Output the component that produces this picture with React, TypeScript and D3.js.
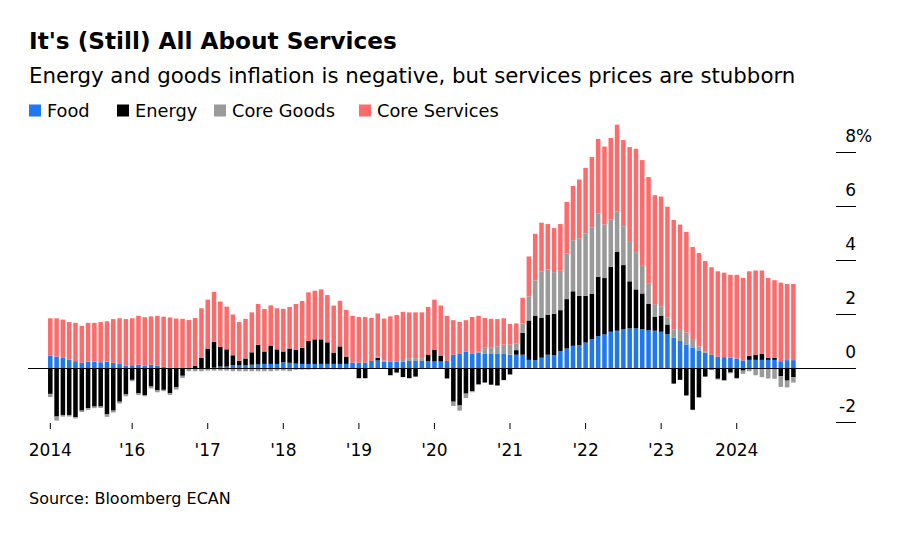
import React from "react";
import * as d3 from "d3";

// Monthly contributions to US CPI (pp), Dec 2014 - Oct 2024
const firstMonth = new Date(2014, 11, 1);

const food = [
  0.47, 0.44, 0.41, 0.32, 0.27, 0.21, 0.25, 0.25, 0.23, 0.26, 0.21, 0.19, 0.1, 0.12, 0.14, 0.1, 0.14, 0.11, 0.06, 0.04,
  0.02, 0.01, 0.01, 0.01, 0.02, 0.02, 0.03, 0.07, 0.07, 0.12, 0.12, 0.12, 0.14, 0.15, 0.17, 0.17, 0.17, 0.23, 0.21, 0.18,
  0.17, 0.17, 0.17, 0.17, 0.17, 0.17, 0.17, 0.17, 0.22, 0.22, 0.22, 0.28, 0.3, 0.26, 0.26, 0.26, 0.26, 0.28, 0.28, 0.28,
  0.27, 0.26, 0.26, 0.28, 0.51, 0.56, 0.63, 0.56, 0.59, 0.56, 0.56, 0.54, 0.56, 0.51, 0.51, 0.51, 0.32, 0.31, 0.4, 0.51,
  0.49, 0.65, 0.74, 0.84, 0.86, 0.96, 1.09, 1.2, 1.26, 1.36, 1.4, 1.46, 1.49, 1.49, 1.46, 1.41, 1.4, 1.36, 1.27, 1.14,
  1.02, 0.89, 0.78, 0.67, 0.59, 0.51, 0.44, 0.42, 0.41, 0.37, 0.3, 0.32, 0.32, 0.32, 0.32, 0.32, 0.27, 0.31, 0.31,
];

const energy = [
  -0.94, -1.78, -1.72, -1.72, -1.8, -1.56, -1.47, -1.41, -1.41, -1.7, -1.56, -1.23, -0.96, -0.42, -0.91, -0.98, -0.67, -0.81, -0.79, -0.91,
  -0.7, -0.27, 0, 0.09, 0.37, 0.72, 0.96, 0.73, 0.64, 0.37, 0.17, 0.25, 0.46, 0.73, 0.46, 0.68, 0.54, 0.4, 0.53, 0.52,
  0.6, 0.85, 0.91, 0.91, 0.8, 0.42, 0.65, 0.27, 0, -0.36, -0.36, 0, 0.1, 0, -0.25, -0.15, -0.32, -0.36, -0.3, 0,
  0.23, 0.44, 0.22, -0.37, -1.23, -1.37, -0.93, -0.84, -0.59, -0.52, -0.6, -0.63, -0.43, -0.22, 0.17, 0.81, 1.46, 1.65, 1.47, 1.48,
  1.54, 1.51, 1.83, 2.02, 1.83, 1.73, 1.67, 2.2, 2.09, 2.41, 2.93, 2.37, 1.74, 1.44, 1.32, 0.98, 0.52, 0.6, 0.36, -0.56,
  -0.42, -1.0, -1.53, -1.07, -0.3, -0.04, -0.38, -0.43, -0.15, -0.35, -0.08, 0.15, 0.19, 0.22, 0.07, 0.07, -0.28, -0.45, -0.32,
];

const coreGoods = [
  -0.12, -0.15, -0.06, -0.06, -0.05, -0.05, -0.06, -0.06, -0.05, -0.09, -0.07, -0.07, -0.07, -0.05, -0.07, -0.05, -0.07, -0.07, -0.05, -0.07,
  -0.08, -0.08, -0.1, -0.1, -0.1, -0.08, -0.08, -0.08, -0.08, -0.1, -0.1, -0.1, -0.1, -0.1, -0.1, -0.1, -0.08, -0.08, -0.1, -0.05,
  -0.04, -0.04, -0.03, -0.03, -0.03, -0.03, -0.03, -0.03, 0, 0, 0, 0, 0.04, 0.04, 0, 0, 0.09, 0.1, 0.1, 0.1,
  0, 0, 0, 0, -0.16, -0.19, -0.16, -0.04, 0.05, 0.21, 0.23, 0.28, 0.32, 0.37, 0.25, 0.35, 0.89, 1.3, 1.73, 1.68,
  1.54, 1.46, 1.69, 1.89, 2.12, 2.31, 2.47, 2.35, 1.99, 1.75, 1.48, 1.44, 1.49, 1.38, 1.05, 0.77, 0.46, 0.35, 0.26, 0.31,
  0.41, 0.44, 0.28, 0.15, 0.03, -0.02, -0.03, -0.03, -0.03, -0.03, -0.12, -0.1, -0.25, -0.32, -0.37, -0.38, -0.4, -0.25, -0.2,
];

const coreServices = [
  1.39, 1.42, 1.4, 1.4, 1.42, 1.37, 1.44, 1.44, 1.49, 1.49, 1.62, 1.67, 1.73, 1.74, 1.81, 1.8, 1.79, 1.84, 1.86, 1.85,
  1.83, 1.83, 1.79, 1.77, 1.84, 1.81, 1.85, 1.68, 1.58, 1.51, 1.43, 1.47, 1.48, 1.51, 1.57, 1.49, 1.52, 1.58, 1.54, 1.69,
  1.73, 1.8, 1.8, 1.85, 1.75, 1.74, 1.69, 1.73, 1.73, 1.69, 1.69, 1.59, 1.6, 1.55, 1.67, 1.72, 1.75, 1.7, 1.7, 1.7,
  1.78, 1.85, 1.85, 1.67, 1.28, 1.17, 1.16, 1.35, 1.31, 1.1, 1.05, 1.01, 0.98, 0.77, 0.74, 0.95, 1.48, 1.73, 1.8, 1.68,
  1.63, 1.73, 1.91, 2.01, 2.19, 2.43, 2.6, 2.75, 2.88, 3.02, 3.22, 3.19, 3.48, 3.83, 3.89, 3.93, 4.04, 4.06, 4.1, 4.05,
  3.9, 3.73, 3.44, 3.46, 3.36, 3.24, 3.16, 3.13, 3.06, 3.1, 3.06, 3.13, 3.12, 3.09, 2.96, 2.88, 2.91, 2.82, 2.82,
];

const seriesKeys = ["food", "energy", "coreGoods", "coreServices"];
const seriesNames = ["Food", "Energy", "Core Goods", "Core Services"];
const seriesColors = ["#1f77f2", "#000000", "#9a9a9a", "#ff6b6b"];

const tickMonths = ["2014-12", "2016-01", "2017-01", "2018-01", "2019-01", "2020-01", "2021-01", "2022-01", "2023-01", "2024-01"];
const tickLabels = ["2014", "'16", "'17", "'18", "'19", "'20", "'21", "'22", "'23", "2024"];

const yTicks = [-2, 0, 2, 4, 6, 8];

const FONT = "'DejaVu Sans', sans-serif";

export default function App() {
  const months = d3.timeMonth.range(firstMonth, d3.timeMonth.offset(firstMonth, food.length));
  const monthKey = d3.timeFormat("%Y-%m");

  const rows = months.map((m, i) => ({
    key: monthKey(m),
    food: food[i],
    energy: energy[i],
    coreGoods: coreGoods[i],
    coreServices: coreServices[i],
  }));

  // positives stack up from zero, negatives stack down
  const stacked = d3
    .stack<any>()
    .keys(seriesKeys)
    .offset(d3.stackOffsetDiverging)(rows);

  const x = d3
    .scaleBand<string>()
    .domain(rows.map((r) => r.key))
    .range([47.15, 796.55])
    .paddingInner(0.28)
    .paddingOuter(0.14);

  const y = d3.scaleLinear().domain([-2, 8]).range([422.5, 152.5]);

  const legendX = [47, 135, 232, 377];

  return (
    <svg
      width={900}
      height={544}
      style={{ position: "absolute", left: 0, top: 0, background: "#fff" }}
      fontFamily={FONT}
    >
      <text x={29} y={49} fontSize={23.2} fontWeight="bold" fill="#000">
        It's (Still) All About Services
      </text>
      <text x={29} y={83} fontSize={21.3} fill="#000">
        Energy and goods inflation is negative, but services prices are stubborn
      </text>

      {seriesNames.map((name, i) => (
        <g key={name}>
          <rect x={legendX[i] - 18} y={104.5} width={12} height={12} fill={seriesColors[i]} />
          <text x={legendX[i]} y={117} fontSize={17.8} fill="#000">
            {name}
          </text>
        </g>
      ))}

      {stacked.map((layer, si) => (
        <g key={layer.key} fill={seriesColors[si]}>
          {layer.map((d: any) => {
            const y0 = y(d[0]);
            const y1 = y(d[1]);
            if (Math.abs(y0 - y1) < 0.01) return null;
            return (
              <rect
                key={d.data.key}
                x={x(d.data.key)}
                y={Math.min(y0, y1)}
                width={x.bandwidth()}
                height={Math.abs(y0 - y1)}
              />
            );
          })}
        </g>
      ))}

      <line x1={28} x2={856} y1={y(0)} y2={y(0)} stroke="#000" strokeWidth={1.2} />

      {yTicks.map((t) => (
        <g key={t}>
          {t !== 0 && <line x1={836} x2={856} y1={y(t)} y2={y(t)} stroke="#000" strokeWidth={1} />}
          <text x={856} y={y(t) - 11} fontSize={17} textAnchor="end" fill="#000">
            {t}
          </text>
          {t === 8 && (
            <text x={856} y={y(t) - 11} fontSize={17} fill="#000">
              %
            </text>
          )}
        </g>
      ))}

      {tickMonths.map((m, i) => {
        const cx = (x(m) ?? 0) + x.bandwidth() / 2;
        return (
          <g key={m}>
            <line x1={cx} x2={cx} y1={423} y2={429} stroke="#000" strokeWidth={1} />
            <text x={cx} y={456} fontSize={17} textAnchor="middle" fill="#000">
              {tickLabels[i]}
            </text>
          </g>
        );
      })}

      <text x={29} y={504} fontSize={16} fill="#000">
        Source: Bloomberg ECAN
      </text>
    </svg>
  );
}
